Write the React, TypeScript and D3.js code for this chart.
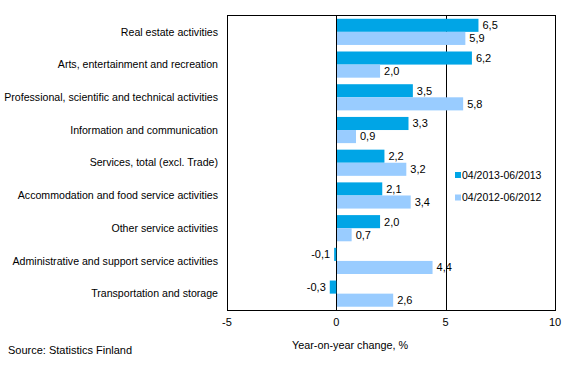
import React, { useEffect, useRef } from 'react'
import * as d3 from 'd3'

// categories, top to bottom
const categories = [
  'Real estate activities',
  'Arts, entertainment and recreation',
  'Professional, scientific and technical activities',
  'Information and communication',
  'Services, total (excl. Trade)',
  'Accommodation and food service activities',
  'Other service activities',
  'Administrative and support service activities',
  'Transportation and storage',
]

const series2013 = [6.5, 6.2, 3.5, 3.3, 2.2, 2.1, 2.0, -0.1, -0.3]
const series2012 = [5.9, 2.0, 5.8, 0.9, 3.2, 3.4, 0.7, 4.4, 2.6]

const seriesNames = ['04/2013-06/2013', '04/2012-06/2012']
const xTicks = [-5, 0, 5, 10]

const colors = ['#00A5E6', '#99CCFF']
const font = 'Arial, "Liberation Sans", sans-serif'

export default function App() {
  const ref = useRef<SVGSVGElement>(null)

  useEffect(() => {
    const svg = d3.select(ref.current)
    svg.selectAll('*').remove()

    const margin = { top: 15.5, left: 227, right: 14, bottom: 64 }
    const width = 569
    const height = 374

    const x = d3.scaleLinear().domain([-5, 10]).range([margin.left, width - margin.right])
    const y = d3.scaleBand().domain(categories).range([margin.top, height - margin.bottom]).paddingInner(0.2).paddingOuter(0.1)
    const sub = d3.scaleBand().domain(['a', 'b']).range([0, y.bandwidth()])

    const fmt = (v: number) => d3.format('.1f')(v).replace('.', ',').replace('−', '-')

    // frame + grid
    const g = svg.append('g')
    g.selectAll('line.grid')
      .data(xTicks)
      .enter()
      .append('line')
      .attr('x1', d => Math.round(x(d)) + 0.5)
      .attr('x2', d => Math.round(x(d)) + 0.5)
      .attr('y1', margin.top)
      .attr('y2', height - margin.bottom)
      .attr('stroke', '#000')
    g.append('line')
      .attr('x1', x(-5))
      .attr('x2', x(10) + 1)
      .attr('y1', margin.top)
      .attr('y2', margin.top)
      .attr('stroke', '#000')
    g.append('line')
      .attr('x1', x(-5))
      .attr('x2', x(10) + 1)
      .attr('y1', height - margin.bottom + 0.5)
      .attr('y2', height - margin.bottom + 0.5)
      .attr('stroke', '#000')

    // bars
    const all = [series2013, series2012]
    all.forEach((vals, si) => {
      const key = si === 0 ? 'a' : 'b'
      g.selectAll(`rect.s${si}`)
        .data(vals)
        .enter()
        .append('rect')
        .attr('x', d => (d >= 0 ? Math.round(x(0)) + 1 : x(d)))
        .attr('y', (d, i) => (y(categories[i]) as number) + (sub(key) as number))
        .attr('width', d => (d >= 0 ? x(d) - Math.round(x(0)) - 1 : x(0) - x(d)))
        .attr('height', sub.bandwidth())
        .attr('fill', colors[si])

      g.selectAll(`text.s${si}`)
        .data(vals)
        .enter()
        .append('text')
        .attr('x', d => (d >= 0 ? x(d) + 4 : x(d) - 4))
        .attr('y', (d, i) => (y(categories[i]) as number) + (sub(key) as number) + sub.bandwidth() / 2)
        .attr('dy', '0.35em')
        .attr('text-anchor', d => (d >= 0 ? 'start' : 'end'))
        .attr('font-family', font)
        .attr('font-size', 11)
        .text(d => fmt(d))
    })

    // category labels
    g.selectAll('text.cat')
      .data(categories)
      .enter()
      .append('text')
      .attr('x', 218)
      .attr('y', d => (y(d) as number) + y.bandwidth() / 2)
      .attr('dy', '0.35em')
      .attr('text-anchor', 'end')
      .attr('font-family', font)
      .attr('font-size', 10.6)
      .text(d => d)

    // x tick labels
    g.selectAll('text.tick')
      .data(xTicks)
      .enter()
      .append('text')
      .attr('x', d => x(d))
      .attr('y', height - margin.bottom + 12)
      .attr('dy', '0.35em')
      .attr('text-anchor', 'middle')
      .attr('font-family', font)
      .attr('font-size', 11)
      .text(d => String(d))

    // axis title
    g.append('text')
      .attr('x', 350)
      .attr('y', 345)
      .attr('dy', '0.35em')
      .attr('text-anchor', 'middle')
      .attr('font-family', font)
      .attr('font-size', 10.8)
      .text('Year-on-year change, %')

    g.append('text')
      .attr('x', 8)
      .attr('y', 350)
      .attr('dy', '0.35em')
      .attr('font-family', font)
      .attr('font-size', 11)
      .text('Source: Statistics Finland')

    // legend
    seriesNames.forEach((name, i) => {
      const ly = 175 + i * 22.5
      g.append('rect')
        .attr('x', 455)
        .attr('y', ly - 3)
        .attr('width', 6)
        .attr('height', 6)
        .attr('fill', colors[i])
      g.append('text')
        .attr('x', 462)
        .attr('y', ly)
        .attr('dy', '0.35em')
        .attr('font-family', font)
        .attr('font-size', 10.5)
        .text(name)
    })
  }, [])

  return (
    <div style={{ position: 'absolute', left: 0, top: 0 }}>
      <svg ref={ref} width={569} height={374} style={{ display: 'block', background: '#fff' }} />
    </div>
  )
}
